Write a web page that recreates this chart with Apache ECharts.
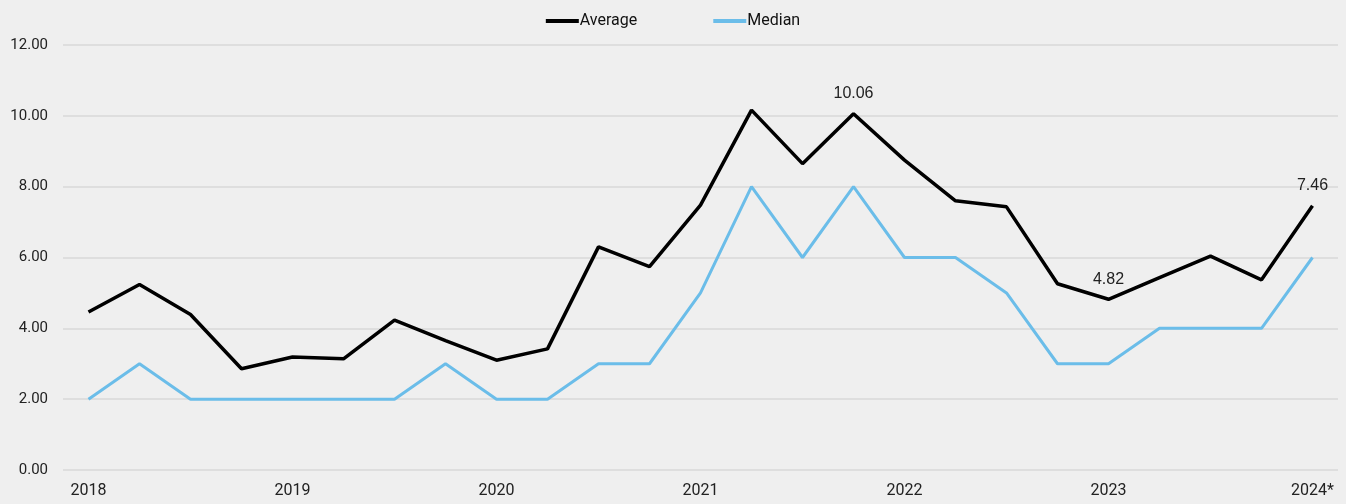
<!DOCTYPE html>
<html>
<head>
<meta charset="utf-8">
<script src="https://cdn.jsdelivr.net/npm/echarts@6/dist/echarts.min.js"></script>
<style>
  html, body { margin: 0; padding: 0; background: #efefef; }
  #chart { width: 1346px; height: 504px; }
</style>
</head>
<body>
<div id="chart"></div>
<script>
// quarterly points, 2018 Q1 .. 2024 Q1
var periods = ['2018', '2018Q2', '2018Q3', '2018Q4',
  '2019', '2019Q2', '2019Q3', '2019Q4',
  '2020', '2020Q2', '2020Q3', '2020Q4',
  '2021', '2021Q2', '2021Q3', '2021Q4',
  '2022', '2022Q2', '2022Q3', '2022Q4',
  '2023', '2023Q2', '2023Q3', '2023Q4',
  '2024*'];
var yearLabels = ['2018', '2019', '2020', '2021', '2022', '2023', '2024*'];

var average = [4.46, 5.24, 4.39, 2.86, 3.19, 3.14, 4.23, 3.65, 3.10, 3.42, 6.30, 5.74,
  7.48, 10.16, 8.65, 10.06, 8.75, 7.60, 7.43, 5.26, 4.82, 5.43, 6.04, 5.37, 7.46];
var median = [2, 3, 2, 2, 2, 2, 2, 3, 2, 2, 3, 3,
  5, 8, 6, 8, 6, 6, 5, 3, 3, 4, 4, 4, 6];

// points that carry a value label
var labelled = [15, 20, 24];

var myChart = echarts.init(document.getElementById('chart'));

var option = {
  backgroundColor: '#efefef',
  animation: false,
  legend: {
    top: 8,
    left: 'center',
    itemGap: 76,
    itemWidth: 33,
    itemHeight: 4,
    icon: 'rect',
    textStyle: {
      color: '#111',
      fontSize: 16,
      fontFamily: 'Roboto, sans-serif',
      padding: [0, 0, 0, -4]
    },
    data: ['Average', 'Median']
  },
  grid: {
    left: 63,
    right: 8,
    top: 45,
    bottom: 34
  },
  xAxis: {
    type: 'category',
    data: periods,
    boundaryGap: true,
    axisLine: { show: false },
    axisTick: { show: false },
    axisLabel: {
      interval: 0,
      margin: 13,
      color: '#222',
      fontSize: 16,
      fontFamily: 'Roboto, sans-serif',
      formatter: function (v, i) {
        return i % 4 === 0 ? yearLabels[i / 4] : '';
      }
    }
  },
  yAxis: {
    type: 'value',
    min: 0,
    max: 12,
    interval: 2,
    axisLine: { show: false },
    axisTick: { show: false },
    splitLine: { lineStyle: { color: '#d9d9d9', width: 1.5 } },
    axisLabel: {
      margin: 15,
      color: '#222',
      fontSize: 15,
      fontFamily: 'Roboto, sans-serif',
      formatter: function (v) { return v.toFixed(2); }
    }
  },
  series: [
    {
      name: 'Average',
      type: 'line',
      data: average,
      symbol: 'circle',
      symbolSize: 0,
      showSymbol: true,
      color: '#000',
      lineStyle: { color: '#000', width: 3.5 },
      label: {
        show: true,
        position: 'top',
        distance: 12,
        color: '#222',
        fontSize: 16,
        fontFamily: 'Liberation Sans, Arial, sans-serif',
        formatter: function (p) {
          return labelled.indexOf(p.dataIndex) >= 0 ? p.value.toFixed(2) : '';
        }
      }
    },
    {
      name: 'Median',
      type: 'line',
      data: median,
      symbol: 'none',
      color: '#6bbde9',
      lineStyle: { color: '#6bbde9', width: 3 }
    }
  ]
};

myChart.setOption(option);

window.onresize = function () {
  myChart.resize();
};
</script>
</body>
</html>
